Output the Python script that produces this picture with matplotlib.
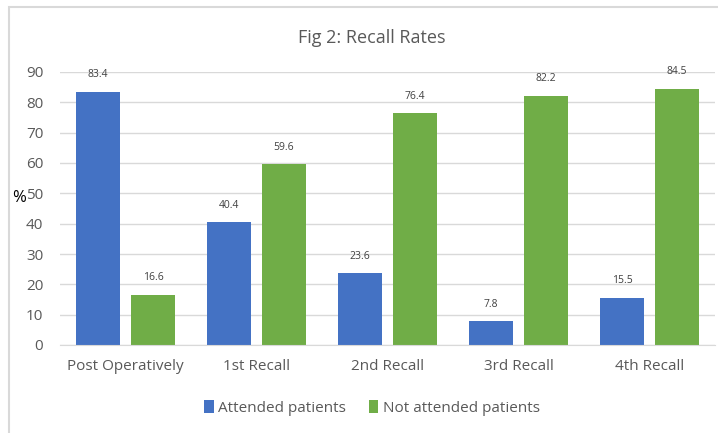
import matplotlib.pyplot as plt
import numpy as np
from matplotlib.patches import Rectangle

categories = ["Post Operatively", "1st Recall", "2nd Recall", "3rd Recall", "4th Recall"]
attended = [83.4, 40.4, 23.6, 7.8, 15.5]
not_attended = [16.6, 59.6, 76.4, 82.2, 84.5]
yticks = [0, 10, 20, 30, 40, 50, 60, 70, 80, 90]

BLUE = "#4472C4"
GREEN = "#70AD47"
TEXT = "#595959"

plt.rcParams["font.family"] = ["Open Sans", "DejaVu Sans"]

W, H = 718, 433
fig = plt.figure(figsize=(W / 100, H / 100), dpi=100)

# chart frame
fig.patches.append(Rectangle((9 / W, -0.05), 1.2, (H - 7) / H + 0.05,
                             transform=fig.transFigure, fill=False,
                             edgecolor="#D9D9D9", linewidth=1.5))

ax = fig.add_axes([60 / W, (H - 345) / H, (715 - 60) / W, (345 - 72) / H])
x = np.arange(len(categories))
bw = 0.34
off = 0.21
b1 = ax.bar(x - off, attended, bw, color=BLUE, label="Attended patients")
b2 = ax.bar(x + off, not_attended, bw, color=GREEN, label="Not attended patients")

for bars, vals in ((b1, attended), (b2, not_attended)):
    for r, v in zip(bars, vals):
        ax.text(r.get_x() + r.get_width() / 2, v + 3.8, f"{v}", ha="center",
                va="bottom", fontsize=7.5, color="#404040")

ax.set_xlim(-0.5, len(categories) - 0.5)
ax.set_ylim(0, 90)
ax.set_yticks(yticks)
ax.set_xticks(x)
ax.set_xticklabels(categories)
ax.yaxis.grid(True, color="#D9D9D9", linewidth=1)
ax.set_axisbelow(True)
for s in ("top", "right", "left"):
    ax.spines[s].set_visible(False)
ax.spines["bottom"].set_color("#D9D9D9")
ax.tick_params(axis="both", length=0, labelsize=11, colors=TEXT)
ax.tick_params(axis="x", pad=10)
ax.tick_params(axis="y", pad=12)

fig.text(19 / W, 1 - 198 / H, "%", ha="center", va="center", fontsize=12, color="black")
fig.text(372 / W, 1 - 38 / H, "Fig 2: Recall Rates", ha="center", va="center",
         fontsize=13, color=TEXT)

fig.legend(handles=[b1, b2], loc="center", bbox_to_anchor=(372 / W, 1 - 408 / H),
           ncol=2, frameon=False, fontsize=11, labelcolor=TEXT,
           handlelength=0.6, handleheight=0.9, handletextpad=0.3, columnspacing=1.5)

fig.savefig("out.png", dpi=100)
